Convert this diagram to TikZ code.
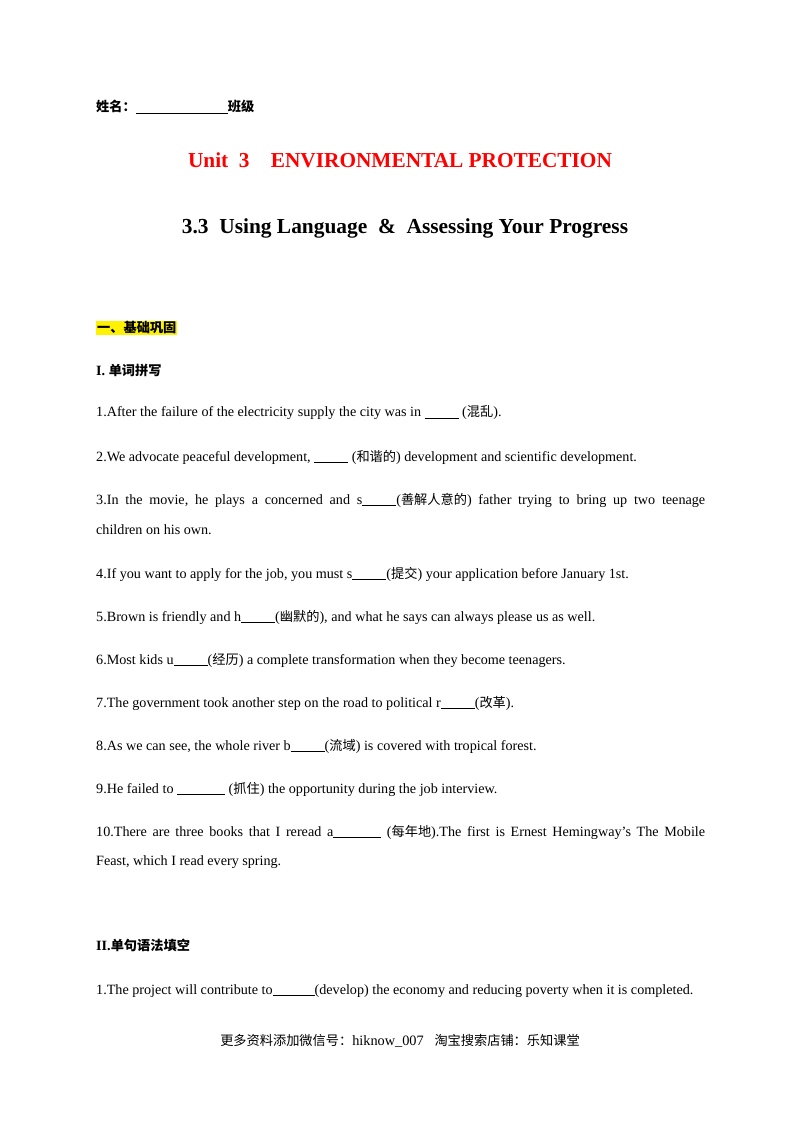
\documentclass[tikz,border=0pt]{standalone}
\usepackage{fontspec}
\setmainfont{Liberation Serif}
\newfontfamily\cjk{Noto Sans CJK SC}
\newcommand{\zh}[1]{{\cjk\fontsize{13.2pt}{15pt}\selectfont #1}}
\newcommand{\bl}[1]{\rule[-1.5pt]{#1pt}{0.6pt}}
\begin{document}
\begin{tikzpicture}[x=1pt,y=-1pt,
  txt/.style={anchor=west,inner sep=0pt,font=\fontsize{14.15pt}{17pt}\selectfont},
  bold/.style={txt,font=\fontsize{14.15pt}{17pt}\selectfont\bfseries}]
\useasboundingbox (0,0) rectangle (800,1132);
\fill[white] (0,0) rectangle (800,1132);
\node[bold] (name) at (96,107) {\zh{\bfseries 姓名：}\bl{92}\zh{\bfseries 班级}};
\node[inner sep=0pt,text=red,font=\fontsize{21.3pt}{25pt}\selectfont\bfseries] (t1) at (400,160) {Unit\ \ 3\ \ \ \ ENVIRONMENTAL PROTECTION};
\node[inner sep=0pt,font=\fontsize{21.4pt}{25pt}\selectfont\bfseries] (t2) at (405,228) {3.3\ \ Using Language\ \ \&\ \ Assessing Your Progress};
\node[bold,fill=yellow,inner sep=1pt] (s1) at (96,328) {\zh{\bfseries 一、基础巩固}};
\node[bold] (s2) at (96,370) {I.\ \zh{\bfseries 单词拼写}};
\node[txt] (l1) at (96,413) {1.After the failure of the electricity supply the city was in \bl{34} (\zh{混乱}).};
\node[txt] (l2) at (96,457) {2.We advocate peaceful development, \bl{34} (\zh{和谐的}) development and scientific development.};
\node[txt] (l3) at (96,500) {\hbox to 609pt{3.In\hfill the\hfill movie,\hfill he\hfill plays\hfill a\hfill concerned\hfill and\hfill s\bl{34}(\zh{善解人意的})\hfill father\hfill trying\hfill to\hfill bring\hfill up\hfill two\hfill teenage}};
\node[txt] (l3b) at (96,530) {children on his own.};
\node[txt] (l4) at (96,574) {4.If you want to apply for the job, you must s\bl{34}(\zh{提交}) your application before January 1st.};
\node[txt] (l5) at (96,617) {5.Brown is friendly and h\bl{34}(\zh{幽默的}), and what he says can always please us as well.};
\node[txt] (l6) at (96,660) {6.Most kids u\bl{34}(\zh{经历}) a complete transformation when they become teenagers.};
\node[txt] (l7) at (96,703) {7.The government took another step on the road to political r\bl{34}(\zh{改革}).};
\node[txt] (l8) at (96,746) {8.As we can see, the whole river b\bl{34}(\zh{流域}) is covered with tropical forest.};
\node[txt] (l9) at (96,789) {9.He failed to \bl{48} (\zh{抓住}) the opportunity during the job interview.};
\node[txt] (l10) at (96,832) {\hbox to 609pt{10.There\hfill are\hfill three\hfill books\hfill that\hfill I\hfill reread\hfill a\bl{48}\hfill(\zh{每年地}).The\hfill first\hfill is\hfill Ernest\hfill Hemingway's\hfill The\hfill Mobile}};
\node[txt] (l10b) at (96,862) {Feast, which I read every spring.};
\node[bold] (s3) at (96,945) {II.\zh{\bfseries 单句语法填空}};
\node[txt] (m1) at (96,991) {1.The project will contribute to\bl{42}(develop) the economy and reducing poverty when it is completed.};
\node[inner sep=0pt,font=\fontsize{14.3pt}{17pt}\selectfont] (f) at (400,1041) {\zh{更多资料添加微信号：}hiknow\_007\ \ \ \zh{淘宝搜索店铺：乐知课堂}};
\end{tikzpicture}
\end{document}
